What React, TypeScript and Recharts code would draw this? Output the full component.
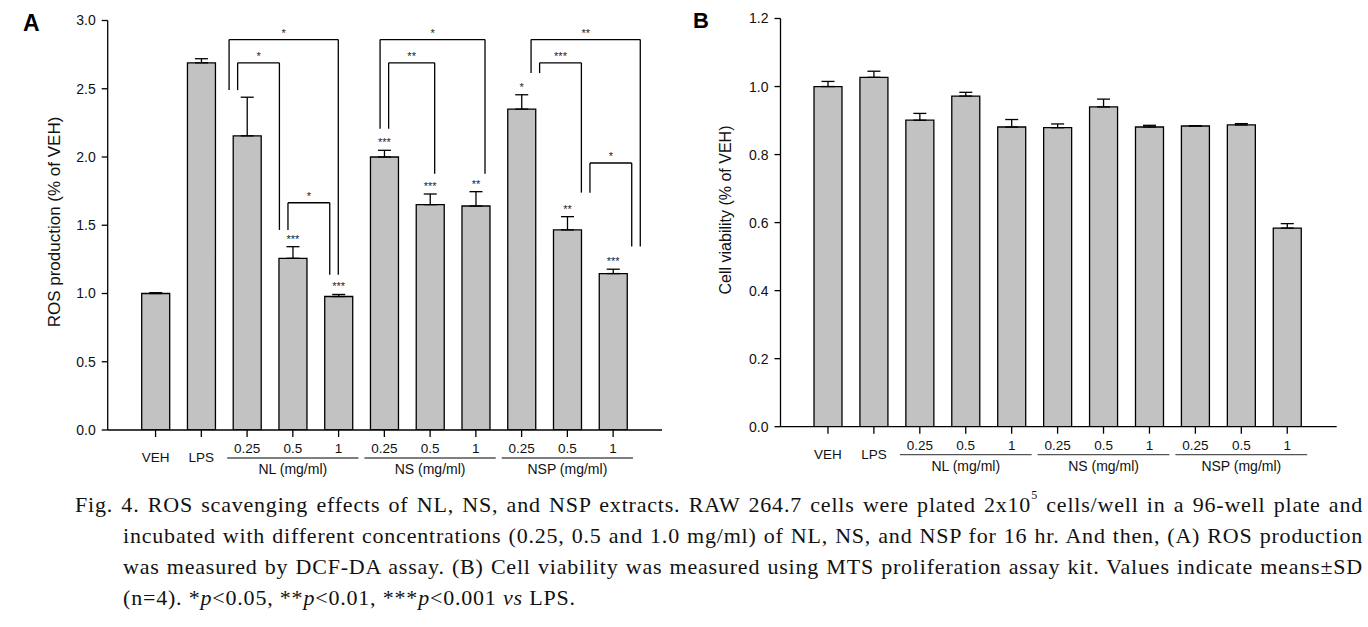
import React from 'react'
import { ComposedChart, Bar, XAxis, YAxis, ErrorBar, ReferenceLine, LabelList } from 'recharts'

const categories = ['VEH', 'LPS', '0.25', '0.5', '1', '0.25', '0.5', '1', '0.25', '0.5', '1']
const groupNames = ['NL (mg/ml)', 'NS (mg/ml)', 'NSP (mg/ml)']

// Panel A: ROS production
const rosMean = [1.0, 2.69, 2.155, 1.258, 0.978, 2.0, 1.651, 1.641, 2.351, 1.466, 1.146]
const rosSd = [0.006, 0.03, 0.283, 0.085, 0.015, 0.049, 0.078, 0.105, 0.105, 0.097, 0.032]
const rosSig = ['', '', '', '***', '***', '***', '***', '**', '*', '**', '***']
const rosTicks = [0, 0.5, 1.0, 1.5, 2.0, 2.5, 3.0]

// pairwise comparisons: from bar, to bar, bracket top, leg ends, label
const rosBrackets = [
  { from: 2, to: 4, top: 2.86, fromEnd: 2.49, toEnd: 1.137, label: '*' },
  { from: 2, to: 3, top: 2.69, fromEnd: 2.49, toEnd: 1.466, label: '*' },
  { from: 3, to: 4, top: 1.665, fromEnd: 1.466, toEnd: 1.137, label: '*' },
  { from: 5, to: 7, top: 2.86, fromEnd: 2.207, toEnd: 1.878, label: '*' },
  { from: 5, to: 6, top: 2.69, fromEnd: 2.207, toEnd: 1.878, label: '**' },
  { from: 8, to: 10, top: 2.86, fromEnd: 2.615, toEnd: 1.344, label: '**' },
  { from: 8, to: 9, top: 2.69, fromEnd: 2.615, toEnd: 1.739, label: '***' },
  { from: 9, to: 10, top: 1.956, fromEnd: 1.739, toEnd: 1.344, label: '*' },
]

// Panel B: cell viability
const viaMean = [1.0, 1.027, 0.901, 0.972, 0.881, 0.879, 0.94, 0.881, 0.884, 0.887, 0.584]
const viaSd = [0.015, 0.018, 0.02, 0.011, 0.022, 0.011, 0.023, 0.005, 0.001, 0.004, 0.013]
const viaTicks = [0, 0.2, 0.4, 0.6, 0.8, 1.0, 1.2]

const SANS = '"Liberation Sans", Arial, sans-serif'
const TICK = 7
const LEG_SHIFT = 0.085

function CatTick(props: any) {
  const { x, y, payload, index } = props
  const base = y - TICK
  const half = payload?.offset || 22.9
  const out: React.ReactNode[] = []
  if (index < 2) {
    out.push(
      <text key="t" x={x} y={base + 32} textAnchor="middle" fontSize={13.5} fill="#111" fontFamily={SANS}>
        {payload.value}
      </text>,
    )
  } else {
    out.push(
      <text key="t" x={x} y={base + 23} textAnchor="middle" fontSize={13.5} fill="#111" fontFamily={SANS}>
        {payload.value}
      </text>,
    )
    if ((index - 2) % 3 === 1) {
      const g = Math.floor((index - 2) / 3)
      out.push(
        <line key="l" x1={x - 3 * half + 3} x2={x + 3 * half - 3} y1={base + 28} y2={base + 28} stroke="#555" strokeWidth={1.3} />,
        <text key="g" x={x} y={base + 44} textAnchor="middle" fontSize={14} fill="#111" fontFamily={SANS}>
          {groupNames[g]}
        </text>,
      )
    }
  }
  return <g>{out}</g>
}

function AxisTitle(props: any) {
  const { cx, cy, text, size } = props
  return (
    <text x={cx} y={cy} transform={`rotate(-90 ${cx} ${cy})`} textAnchor="middle" dominantBaseline="central" fontSize={size} fill="#111" fontFamily={SANS}>
      {text}
    </text>
  )
}

function starContent(sig: string[], sd: number[]) {
  return (p: any) => {
    const vb = p.viewBox ?? p
    const i = p.index
    if (i == null || !sig[i]) return null
    const x = vb.x + vb.width / 2
    const pxPerUnit = Math.abs(vb.height) / p.value
    const top = Math.min(vb.y, vb.y + vb.height) - sd[i] * pxPerUnit
    return (
      <text x={x} y={top - 4} textAnchor="middle" fontSize={11} fill="#222" fontFamily={SANS}>
        {sig[i]}
      </text>
    )
  }
}

function legShift(list: typeof rosBrackets, b: (typeof rosBrackets)[number], bar: number, side: 'from' | 'to') {
  const others = list.filter((o) => o !== b && (o.from === bar || o.to === bar))
  if (others.length === 0) return 0
  const span = b.to - b.from
  const wider = others.every((o) => o.to - o.from < span)
  if (side === 'from') return wider ? -LEG_SHIFT : LEG_SHIFT
  return wider ? LEG_SHIFT : -LEG_SHIFT
}

function bracketLines(list: typeof rosBrackets) {
  const lines: React.ReactNode[] = []
  list.forEach((b, k) => {
    const x1 = b.from + legShift(list, b, b.from, 'from')
    const x2 = b.to + legShift(list, b, b.to, 'to')
    const common = { xAxisId: 'num', stroke: '#000', strokeWidth: 1.3, ifOverflow: 'visible' as const }
    lines.push(
      <ReferenceLine key={`l${k}`} {...common} segment={[{ x: x1, y: b.fromEnd }, { x: x1, y: b.top }]} />,
      <ReferenceLine key={`r${k}`} {...common} segment={[{ x: x2, y: b.toEnd }, { x: x2, y: b.top }]} />,
      <ReferenceLine
        key={`t${k}`}
        {...common}
        segment={[{ x: x1, y: b.top }, { x: x2, y: b.top }]}
        label={(p: any) => {
          const vb = p.viewBox
          return (
            <text x={vb.x + vb.width / 2} y={vb.y - 3} textAnchor="middle" fontSize={11} fill="#222" fontFamily={SANS}>
              {b.label}
            </text>
          )
        }}
      />,
    )
  })
  return lines
}

interface PanelProps {
  mean: number[]
  sd: number[]
  sig?: string[]
  ticks: number[]
  max: number
  title: string
  titleX: number
  titleY: number
  titleSize: number
  width: number
  yWidth: number
  margin: { top: number; right: number; bottom: number; left: number }
  padL: number
  padR: number
  brackets?: typeof rosBrackets
}

function Panel(p: PanelProps) {
  const data = categories.map((name, i) => ({ name, mean: p.mean[i], err: [0, p.sd[i]] }))
  const axisStroke = { stroke: '#000', strokeWidth: 1.3 }
  return (
    <ComposedChart width={p.width} height={500} data={data} margin={p.margin}>
      <XAxis
        dataKey="name"
        type="category"
        height={50}
        padding={{ left: p.padL, right: p.padR }}
        axisLine={axisStroke}
        tickLine={axisStroke}
        tickSize={TICK}
        tickMargin={0}
        interval={0}
        tick={<CatTick />}
      />
      <XAxis xAxisId="num" type="number" domain={[-0.5, 10.5]} allowDataOverflow hide padding={{ left: p.padL, right: p.padR }} />
      <YAxis
        width={p.yWidth}
        domain={[0, p.max]}
        ticks={p.ticks}
        interval={0}
        allowDataOverflow
        tickFormatter={(v: number) => v.toFixed(1)}
        axisLine={axisStroke}
        tickLine={axisStroke}
        tickSize={6}
        tickMargin={6}
        tick={{ fontSize: 14, fill: '#111', fontFamily: SANS }}
        label={<AxisTitle cx={p.titleX} cy={p.titleY} size={p.titleSize} text={p.title} />}
      />
      <Bar dataKey="mean" barSize={28} fill="#c2c2c2" stroke="#000" strokeWidth={1.3} isAnimationActive={false}>
        <ErrorBar dataKey="err" width={6.5} stroke="#000" strokeWidth={1.3} direction="y" />
        {p.sig && <LabelList dataKey="mean" content={starContent(p.sig, p.sd)} />}
      </Bar>
      {p.brackets && bracketLines(p.brackets)}
    </ComposedChart>
  )
}

export default function App() {
  const line = { textAlign: 'justify' as const, textAlignLast: 'justify' as const, whiteSpace: 'nowrap' as const }
  return (
    <div style={{ position: 'absolute', left: 0, top: 0, width: 1368, height: 627, background: '#fff', overflow: 'hidden' }}>
      <div style={{ position: 'absolute', left: 0, top: 0 }}>
        <Panel
          mean={rosMean}
          sd={rosSd}
          sig={rosSig}
          ticks={rosTicks}
          max={3}
          title="ROS production (% of VEH)"
          titleX={54}
          titleY={222}
          titleSize={17}
          width={680}
          yWidth={107.7}
          margin={{ top: 20.5, right: 18, bottom: 20, left: 0 }}
          padL={25}
          padR={26}
          brackets={rosBrackets}
        />
      </div>
      <div style={{ position: 'absolute', left: 680, top: 0 }}>
        <Panel
          mean={viaMean}
          sd={viaSd}
          ticks={viaTicks}
          max={1.2}
          title="Cell viability (% of VEH)"
          titleX={45}
          titleY={210}
          titleSize={16}
          width={688}
          yWidth={100.5}
          margin={{ top: 18.5, right: 31.3, bottom: 23.3, left: 0 }}
          padL={24.5}
          padR={26.5}
        />
      </div>
      <div style={{ position: 'absolute', left: 23, top: 10, fontFamily: SANS, fontWeight: 700, fontSize: 23, lineHeight: '26px' }}>A</div>
      <div style={{ position: 'absolute', left: 693, top: 8, fontFamily: SANS, fontWeight: 700, fontSize: 22, lineHeight: '26px' }}>B</div>
      <div
        style={{
          position: 'absolute',
          left: 75,
          top: 489,
          width: 1288,
          fontFamily: '"Liberation Serif", "Times New Roman", serif',
          fontSize: 22,
          letterSpacing: 0.8,
          lineHeight: '31px',
          color: '#111',
        }}
      >
        <div style={line}>
          Fig. 4. ROS scavenging effects of NL, NS, and NSP extracts. RAW 264.7 cells were plated 2x10
          <span style={{ fontSize: 12, verticalAlign: 'top', lineHeight: '12px' }}>5</span> cells/well in a 96-well plate and
        </div>
        <div style={{ ...line, marginLeft: 48 }}>
          incubated with different concentrations (0.25, 0.5 and 1.0 mg/ml) of NL, NS, and NSP for 16 hr. And then, (A) ROS production
        </div>
        <div style={{ ...line, marginLeft: 48 }}>
          was measured by DCF-DA assay. (B) Cell viability was measured using MTS proliferation assay kit. Values indicate means±SD
        </div>
        <div style={{ marginLeft: 48, whiteSpace: 'nowrap' }}>
          (n=4). *<i>p</i>&lt;0.05, **<i>p</i>&lt;0.01, ***<i>p</i>&lt;0.001 <i>vs</i> LPS.
        </div>
      </div>
    </div>
  )
}
